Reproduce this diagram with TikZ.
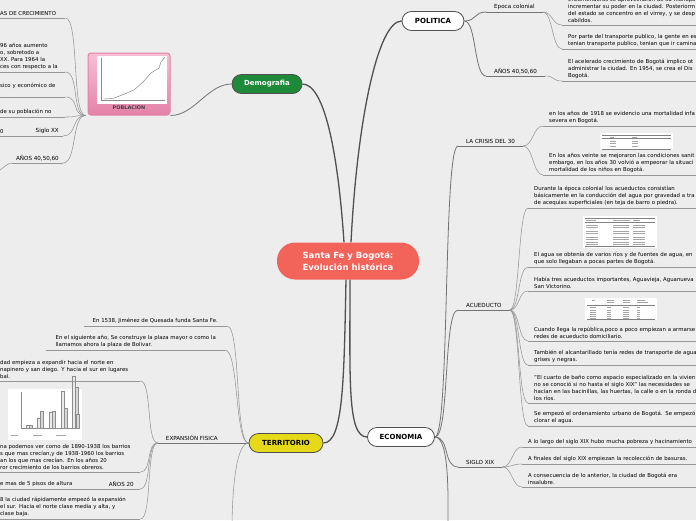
\documentclass[tikz,border=0pt]{standalone}
\usepackage{fontspec}
\setmainfont{DejaVu Sans}
\usetikzlibrary{positioning}

\definecolor{fondo}{RGB}{237,237,237}
\definecolor{salmon}{RGB}{242,99,90}
\definecolor{verde}{RGB}{29,137,57}
\definecolor{amarillo}{RGB}{229,217,26}
\definecolor{rama}{RGB}{80,80,80}
\definecolor{ramita}{RGB}{115,115,115}
\definecolor{gris}{RGB}{150,150,150}
\definecolor{rosa}{RGB}{228,130,168}
\definecolor{rosaclaro}{RGB}{246,192,212}

\newcommand{\hojafont}{\fontsize{5.4}{7}\selectfont}
\newcommand{\subfont}{\fontsize{5.6}{7}\selectfont}

\tikzset{
  central/.style={rounded corners=18pt, fill=salmon, minimum width=142pt, minimum height=37pt,
    text=white, font=\fontsize{8.5}{12}\selectfont\bfseries, align=center},
  tema/.style={rounded corners=9.5pt, draw=rama, line width=0.8pt, minimum height=19pt,
    font=\fontsize{7}{8}\selectfont\bfseries},
  subtema/.style={font=\subfont, inner xsep=8pt, inner ysep=2pt},
  hoja/.style={font=\hojafont, align=left, inner xsep=6pt, inner ysep=2.5pt, anchor=south west, text width=210pt},
  corte/.style={font=\hojafont, align=left, inner xsep=1pt, inner ysep=2.5pt, anchor=south west},
  izq/.style={font=\hojafont, align=left, inner xsep=9pt, inner ysep=2.5pt, anchor=south east},
  grueso/.style={draw=rama, line width=1.3pt},
  medio/.style={draw=ramita, line width=0.8pt},
  fino/.style={draw=gris, line width=0.55pt},
}

\begin{document}
\begin{tikzpicture}[x=1pt,y=-1pt]
\fill[fondo] (0,0) rectangle (696,520);
\useasboundingbox (0,0) rectangle (696,520);

% centro y temas
\node[central] (cen) at (348,261) {Santa Fe y Bogotá:\\Evolución histórica};
\node[tema, fill=verde, text=white, minimum width=70pt] (dem) at (267,84) {Demografia};
\node[tema, fill=white, minimum width=62pt] (pol) at (433,21) {POLITICA};
\node[tema, fill=amarillo, minimum width=74pt] (ter) at (286,443) {TERRITORIO};
\node[tema, fill=white, minimum width=67pt] (eco) at (401,437) {ECONOMIA};

\draw[grueso] ([xshift=-4pt]cen.north) .. controls +(-6,-90) and +(22,0) .. (dem.east);
\draw[grueso] ([xshift=3pt]cen.north) .. controls +(6,-120) and +(-24,0) .. (pol.west);
\draw[grueso] ([xshift=-2pt]cen.south) .. controls +(-2,100) and +(20,0) .. (ter.east);
\draw[grueso] ([xshift=2pt]cen.south) .. controls +(0,100) and +(-20,0) .. (eco.west);

% Demografia
\node[draw=rosa, line width=1pt, rounded corners=3pt, top color=rosaclaro, bottom color=rosa,
  minimum width=82pt, text height=52pt, text depth=2pt, inner ysep=4pt,
  font=\fontsize{5}{6}\selectfont\bfseries, text=black!75] (pob) at (129,84) {POBLACION};
\fill[white] (97,56) rectangle (167,104);
\draw[black!45, line width=0.3pt] (101,58) -- (101,100) -- (165,100);
\draw[black!55, line width=0.4pt] (104,99) -- (113,98.5) -- (122,95) -- (134,90) -- (143,82)
  -- (151,73) -- (159,68) -- (161,62) -- (165,57);
\draw[medio] (dem.west) .. controls +(-24,0) and +(24,0) .. (pob.south east);

\node[corte, text width=64pt] (crec) at (-1,18) {AS DE CRECIMIENTO};
\node[corte, text width=64pt] (aumento) at (-1,72) {96 años aumento\\o,  sobretodo a\\XX. Para 1964 la\\ces con respecto a la};
\node[corte, text width=64pt] (fisico) at (-1,97) {sico y económico de\\\mbox{}};
\node[corte, text width=64pt] (habit) at (-1,117) {de su población no};
\node[subtema, anchor=south east, inner xsep=4pt] (s20) at (63,136) {Siglo XX};
\node[corte] (s20a) at (-1,136) {0};
\node[subtema, anchor=south east, inner xsep=4pt] (dem4050) at (63,163) {AÑOS 40,50,60};
\coordinate (dem4050a) at (-8,174);

\foreach \n in {crec,aumento,fisico,habit,s20,s20a,dem4050}
  \draw[fino] (\n.south west) -- (\n.south east);
\foreach \n in {crec,aumento,fisico,habit,s20,dem4050}
  \draw[fino] ([xshift=-2pt]pob.south west) .. controls +(-14,0) and +(14,0) .. (\n.south east);
\draw[fino] (s20.south west) -- (s20a.south east);
\draw[fino] (dem4050.south west) .. controls +(-6,0) and +(6,0) .. (dem4050a);

% Politica
\node[subtema, anchor=south west] (colonia) at (486,12) {Epoca colonial};
\node[subtema, anchor=south west] (pol4050) at (486,76) {AÑOS 40,50,60};
\node[hoja] (encom) at (562,25) {encomenderos se aprovecharon de su monopolio\\incrementar su poder en la ciudad. Posteriorm\\del estado se concentro en el virrey, y se desp\\cabildos.};
\node[hoja] (transp) at (562,49) {Por parte del transporte publico, la gente en es\\tenian transporte publico, tenian que ir camina};
\node[hoja] (distr) at (562,81) {El acelerado crecimiento de Bogotá implico ot\\administrar la ciudad. En 1954, se crea el Dis\\Bogotá.};

\foreach \n in {colonia,pol4050}
  \draw[medio] (pol.east) .. controls +(12,0) and +(-12,0) .. (\n.south west);
\foreach \n in {encom,transp}
  \draw[fino] (colonia.south east) .. controls +(10,0) and +(-10,0) .. (\n.south west);
\draw[fino] (pol4050.south east) .. controls +(10,0) and +(-10,0) .. (distr.south west);

% Economia
\node[subtema, anchor=south west] (crisis) at (458,146) {LA CRISIS DEL 30};
\node[subtema, anchor=south west] (acued) at (458,310) {ACUEDUCTO};
\node[subtema, anchor=south west] (siglo19) at (458,467) {SIGLO XIX};
\coordinate (ecoabajo) at (448,530);

\node[hoja] (mortal) at (543,126) {en los años de 1918 se evidencio una mortalidad infa\\severa en Bogotá.};
\node[hoja] (sanit) at (543,175) {En los años veinte se mejoraron las condiciones sanit\\embargo, en los años 30 volvió a empeorar la situaci\\mortalidad de los niños en Bogotá.};

\node[hoja] (colonial) at (528,208) {Durante la época colonial los acueductos consistían\\básicamente en la conducción del agua por gravedad a tra\\de acequias superficiales (en teja de barro o piedra).};
\node[hoja] (rios) at (528,267) {El agua se obtenía de varios ríos y de fuentes de agua, en\\que solo llegaban a pocas partes de Bogotá.};
\node[hoja] (tres) at (528,291) {Había tres acueductos importantes, Aguavieja, Aguanueva\\San Victorino.};
\node[hoja] (redes) at (528,341) {Cuando llega la república,poco a poco empiezan a armarse\\redes de acueducto domiciliario.};
\node[hoja] (alcant) at (528,365) {También el alcantarillado tenía redes de transporte de agua\\grises y negras.};
\node[hoja] (bano) at (528,403) {"El cuarto de baño como espacio especializado en la vivien\\no se conoció si no hasta el siglo XIX" las necesidades se\\hacían en las bacinillas, las huertas, la calle o en la ronda d\\los ríos.};
\node[hoja] (clorar) at (528,426) {Se empezó el ordenamiento urbano de Bogotá. Se empezó\\clorar el agua.};

\node[hoja] (pobreza) at (522,447) {A lo largo del siglo XIX hubo mucha pobreza y hacinamiento};
\node[hoja] (basura) at (522,464) {A finales del siglo XIX empiezan la recolección de basuras.};
\node[hoja] (insal) at (522,487) {A consecuencia de lo anterior, la ciudad de Bogotá era\\insalubre.};

% tablas
\fill[white] (600,133) rectangle (673,150);
\draw[black!50, line width=0.3pt] (602,135) -- (671,135) (602,138.5) -- (671,138.5) (602,149) -- (671,149);
\foreach \y in {141,143.5,146}
  \draw[black!35, line width=0.8pt] (610,\y) -- (616,\y) (632,\y) -- (638,\y);
\draw[black!35, line width=0.8pt] (610,137) -- (614,137) (632,137) -- (637,137);

\fill[white] (583,216) rectangle (657,248);
\draw[black!50, line width=0.3pt] (585,218) -- (655,218) (585,222) -- (655,222) (585,246) -- (655,246);
\draw[black!35, line width=0.7pt] (586,220) -- (596,220) (613,220) -- (630,220) (633,220) -- (640,220);
\foreach \y in {225,227,231,233,237,239,242,244}
  \draw[black!35, line width=0.7pt] (586,\y) -- (598,\y) (613,\y) -- (629,\y) (633,\y) -- (645,\y);

\fill[white] (585,298) rectangle (657,320);
\draw[black!50, line width=0.3pt] (587,305) -- (655,305) (587,319) -- (655,319);
\draw[black!35, line width=0.7pt] (592,300) -- (595,300) (607,300) -- (614,300) (623,300) -- (630,300)
  (637,300) -- (645,300) (607,302) -- (614,302) (623,302) -- (630,302) (637,302) -- (648,302);
\foreach \y in {307,310,312,314,316,318}
  \draw[black!35, line width=0.7pt] (590,\y) -- (596,\y) (607,\y) -- (611,\y) (623,\y) -- (629,\y) (637,\y) -- (640,\y);

\foreach \n in {crisis,acued,siglo19}
  \draw[medio] (eco.east) .. controls +(15,0) and +(-15,0) .. (\n.south west);
\draw[medio] (eco.east) .. controls +(15,0) and +(0,-30) .. (ecoabajo);
\foreach \n in {crisis,acued,siglo19,colonia,pol4050}
  \draw[medio] (\n.south west) -- (\n.south east);
\foreach \n in {mortal,sanit}
  \draw[fino] (crisis.south east) .. controls +(10,0) and +(-10,0) .. (\n.south west);
\foreach \n in {colonial,rios,tres,redes,alcant,bano,clorar}
  \draw[fino] (acued.south east) .. controls +(10,0) and +(-10,0) .. (\n.south west);
\foreach \n in {pobreza,basura,insal}
  \draw[fino] (siglo19.south east) .. controls +(10,0) and +(-10,0) .. (\n.south west);
\foreach \n in {encom,transp,distr,mortal,sanit,colonial,rios,tres,redes,alcant,bano,clorar,pobreza,basura,insal}
  \draw[fino] (\n.south west) -- (\n.south east);

% Territorio
\node[izq] (funda) at (227,326) {En 1538, Jiménez de Quesada funda Santa Fe.};
\node[izq] (plaza) at (225,350) {En el siguiente año, Se construye la plaza mayor o como la\\llamamos ahora la plaza de Bolivar.};
\node[subtema, anchor=south east] (expan) at (226,443) {EXPANSIÓN FISICA};
\coordinate (terabajo) at (232,530);

\node[corte, text width=139pt] (norte) at (-1,381) {dad empieza a expandir hacia el norte en\\napinero y san diego. Y hacia el sur en lugares\\bal.};
\node[corte, text width=139pt] (barrios) at (-1,472) {na podemos ver como de 1890-1938 los barrios\\s que mas crecían,y de 1938-1960 los barrios\\an los que mas crecían. En los años 20\\ror crecimiento de los barrios obreros.};
\node[subtema, anchor=south east, inner xsep=6pt] (anos20) at (140,489) {AÑOS 20};
\node[corte, text width=99pt] (pisos) at (-1,489) {e mas de 5 pisos de altura};
\node[corte, text width=139pt] (clase) at (-1,519) {8 la ciudad rápidamente empezó la expansión\\el sur. Hacia el norte clase media y alta, y\\clase baja.};

% grafica de barras
\fill[white] (8,389) rectangle (82,440);
\draw[black!45, line width=0.3pt] (21,392) -- (21,428) -- (80,428);
\foreach \xa/\ha/\hb in {26/3/3, 37/10/17, 49/16/17, 61/37/20, 72/52/41} {
  \draw[black!45, line width=0.3pt, fill=black!8] (\xa,428) rectangle ++(3,-\ha);
  \draw[black!45, line width=0.3pt, fill=black!15] (\xa+3.5,428) rectangle ++(3,-\hb);
}
\draw[black!45, line width=0.3pt, fill=black!15] (76,428) rectangle ++(3,-14);
\draw[black!35, line width=0.6pt] (11,435) -- (18,435) (33,435) -- (42,435) (56,435) -- (66,435);

\draw[fino] (ter.west) .. controls +(-14,0) and +(14,0) .. (funda.south east);
\draw[fino] (ter.west) .. controls +(-14,0) and +(14,0) .. (plaza.south east);
\draw[medio] (ter.west) -- (expan.south east);
\draw[medio] (expan.south west) -- (expan.south east);
\draw[fino] (ter.west) .. controls +(-14,0) and +(0,-30) .. (terabajo);
\foreach \n in {norte,barrios,clase}
  \draw[fino] (expan.south west) .. controls +(-12,0) and +(12,0) .. (\n.south east);
\draw[fino] (expan.south west) .. controls +(-12,0) and +(12,0) .. (anos20.south east);
\draw[fino] (anos20.south west) -- (pisos.south east);
\foreach \n in {funda,plaza,norte,barrios,anos20,pisos,clase}
  \draw[fino] (\n.south west) -- (\n.south east);
\end{tikzpicture}
\end{document}
